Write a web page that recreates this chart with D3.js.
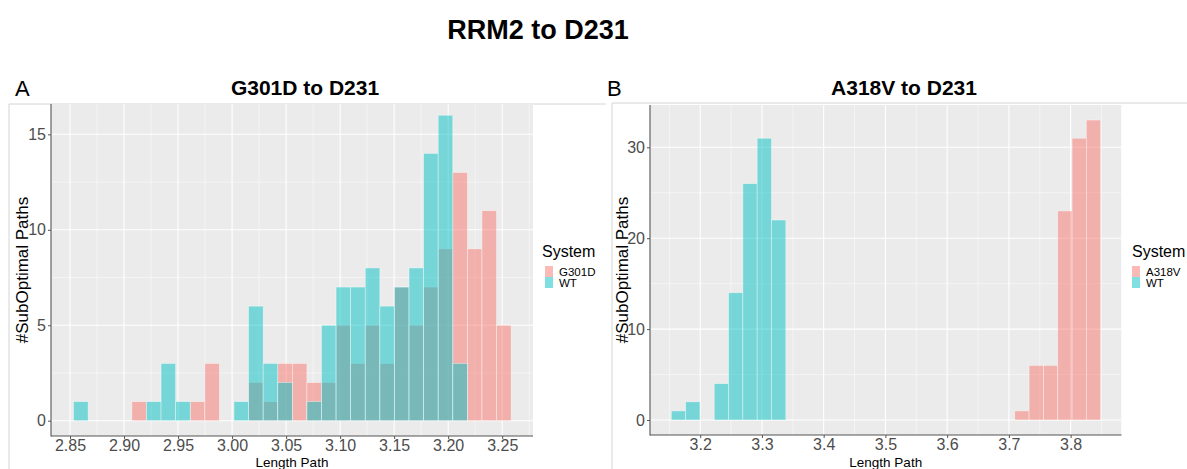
<!DOCTYPE html>
<html>
<head>
<meta charset="utf-8">
<script src="https://cdn.jsdelivr.net/npm/d3@7"></script>
<style>
  html, body { margin: 0; padding: 0; background: #fff; }
  svg { display: block; font-family: "Liberation Sans", Arial, Helvetica, sans-serif; }
</style>
</head>
<body>
<svg id="chart" width="1187" height="469"></svg>
<script>
// ---------- data ----------
const mainTitle = "RRM2 to D231";
const panelTitles = ["G301D to D231", "A318V to D231"];
const panelLetters = ["A", "B"];
const xTitle = "Length Path";
const yTitle = "#SubOptimal Paths";
const legendTitle = "System";

// Panel A: histogram bin centres (30 bins) and counts
const binsA = [2.8600, 2.8735, 2.8870, 2.9005, 2.9140, 2.9275, 2.9410, 2.9545, 2.9680, 2.9815,
               2.9950, 3.0085, 3.0220, 3.0355, 3.0490, 3.0625, 3.0760, 3.0895, 3.1030, 3.1165,
               3.1300, 3.1435, 3.1570, 3.1705, 3.1840, 3.1975, 3.2110, 3.2245, 3.2380, 3.2515];
const binWidthA = 0.0135;
const countsG301D = [0, 0, 0, 0, 1, 0, 0, 0, 1, 3,
                     0, 0, 2, 1, 3, 3, 2, 2, 5, 3,
                     5, 3, 7, 5, 7, 9, 13, 9, 11, 5];
const countsWTA   = [1, 0, 0, 0, 0, 1, 3, 1, 0, 0,
                     0, 1, 6, 3, 2, 0, 1, 5, 7, 7,
                     8, 6, 7, 8, 14, 16, 3, 0, 0, 0];
const xTicksA = [2.85, 2.90, 2.95, 3.00, 3.05, 3.10, 3.15, 3.20, 3.25];
const xTickLabelsA = ["2.85", "2.90", "2.95", "3.00", "3.05", "3.10", "3.15", "3.20", "3.25"];
const yTicksA = [0, 5, 10, 15];
const seriesA = ["G301D", "WT"];

// Panel B
const binsB = [3.1648, 3.1880, 3.2112, 3.2343, 3.2575, 3.2807, 3.3039, 3.3271, 3.3502, 3.3734,
               3.3966, 3.4198, 3.4430, 3.4661, 3.4893, 3.5125, 3.5357, 3.5589, 3.5820, 3.6052,
               3.6284, 3.6516, 3.6748, 3.6979, 3.7211, 3.7443, 3.7675, 3.7907, 3.8139, 3.8370];
const binWidthB = 0.02318;
const countsA318V = [0, 0, 0, 0, 0, 0, 0, 0, 0, 0,
                     0, 0, 0, 0, 0, 0, 0, 0, 0, 0,
                     0, 0, 0, 0, 1, 6, 6, 23, 31, 33];
const countsWTB   = [1, 2, 0, 4, 14, 26, 31, 22, 0, 0,
                     0, 0, 0, 0, 0, 0, 0, 0, 0, 0,
                     0, 0, 0, 0, 0, 0, 0, 0, 0, 0];
const xTicksB = [3.2, 3.3, 3.4, 3.5, 3.6, 3.7, 3.8];
const xTickLabelsB = ["3.2", "3.3", "3.4", "3.5", "3.6", "3.7", "3.8"];
const yTicksB = [0, 10, 20, 30];
const seriesB = ["A318V", "WT"];

const colors = ["#F8766D", "#00BFC4"];

// ---------- drawing ----------
const svg = d3.select("#chart");
svg.append("rect").attr("width", 1187).attr("height", 469).attr("fill", "#fff");

svg.append("text").attr("x", 538).attr("y", 39).attr("text-anchor", "middle")
  .attr("font-size", 27).attr("font-weight", "bold").attr("fill", "#000").text(mainTitle);

const panels = [
  { bins: binsA, bw: binWidthA, series: [countsG301D, countsWTA], names: seriesA,
    xDomain: [2.8324, 3.2785], yDomain: [-0.8, 16.8],
    left: 51, right: 533, top: 99.96, bottom: 435.97, clipTop: 104,
    xTicks: xTicksA, xLabels: xTickLabelsA, yTicks: yTicksA,
    xMinor: [2.875, 2.925, 2.975, 3.025, 3.075, 3.125, 3.175, 3.225, 3.275],
    yMinor: [2.5, 7.5, 12.5],
    frameX: 9, frameY: 104, frameRight: 606,
    letterX: 15, titleX: 305, yTitleX: 28, legendX: 542, legendKeyX: 545 },
  { bins: binsB, bw: binWidthB, series: [countsA318V, countsWTB], names: seriesB,
    xDomain: [3.1187, 3.8824], yDomain: [-1.65, 34.65],
    left: 650, right: 1121.5, top: 105.04, bottom: 435.0, clipTop: 104,
    xTicks: xTicksB, xLabels: xTickLabelsB, yTicks: yTicksB,
    xMinor: [3.15, 3.25, 3.35, 3.45, 3.55, 3.65, 3.75, 3.85],
    yMinor: [5, 15, 25],
    frameX: 612, frameY: 103, frameRight: 1187,
    letterX: 607, titleX: 904, yTitleX: 628, legendX: 1132, legendKeyX: 1132 }
];

panels.forEach((p, pi) => {
  const g = svg.append("g");
  // frame lines
  g.append("line").attr("x1", p.frameX).attr("x2", p.frameRight).attr("y1", p.frameY).attr("y2", p.frameY)
    .attr("stroke", "#d4d4d4").attr("stroke-width", 1);
  g.append("line").attr("x1", p.frameX).attr("x2", p.frameX).attr("y1", p.frameY).attr("y2", 469)
    .attr("stroke", "#d4d4d4").attr("stroke-width", 1);

  const x = d3.scaleLinear().domain(p.xDomain).range([p.left, p.right]);
  const y = d3.scaleLinear().domain(p.yDomain).range([p.bottom, p.top]);
  const pTop = Math.max(p.top, p.clipTop);

  const clipId = "clip" + pi;
  svg.append("clipPath").attr("id", clipId).append("rect")
    .attr("x", p.left).attr("y", pTop).attr("width", p.right - p.left).attr("height", p.bottom - pTop);

  const plot = g.append("g").attr("clip-path", `url(#${clipId})`);
  plot.append("rect").attr("x", p.left).attr("y", pTop).attr("width", p.right - p.left)
    .attr("height", p.bottom - pTop).attr("fill", "#EBEBEB");

  // minor grid
  plot.selectAll(".xminor").data(p.xMinor).enter().append("line")
    .attr("x1", d => x(d)).attr("x2", d => x(d)).attr("y1", pTop).attr("y2", p.bottom)
    .attr("stroke", "#fff").attr("stroke-width", 0.6).attr("stroke-opacity", 0.8);
  plot.selectAll(".yminor").data(p.yMinor).enter().append("line")
    .attr("x1", p.left).attr("x2", p.right).attr("y1", d => y(d)).attr("y2", d => y(d))
    .attr("stroke", "#fff").attr("stroke-width", 0.6).attr("stroke-opacity", 0.8);
  // major grid
  plot.selectAll(".xmajor").data(p.xTicks).enter().append("line")
    .attr("x1", d => x(d)).attr("x2", d => x(d)).attr("y1", pTop).attr("y2", p.bottom)
    .attr("stroke", "#fff").attr("stroke-width", 1.1);
  plot.selectAll(".ymajor").data(p.yTicks).enter().append("line")
    .attr("x1", p.left).attr("x2", p.right).attr("y1", d => y(d)).attr("y2", d => y(d))
    .attr("stroke", "#fff").attr("stroke-width", 1.1);

  // bars: first series then second, alpha 0.5
  p.series.forEach((counts, si) => {
    const data = p.bins.map((c, i) => ({ c: c, n: counts[i] })).filter(d => d.n > 0);
    plot.selectAll(".bar" + si).data(data).enter().append("rect")
      .attr("x", d => x(d.c - p.bw / 2))
      .attr("width", d => x(d.c + p.bw / 2) - x(d.c - p.bw / 2))
      .attr("y", d => y(d.n))
      .attr("height", d => y(0) - y(d.n))
      .attr("fill", colors[si]).attr("fill-opacity", 0.5)
      .attr("stroke", "#fff").attr("stroke-opacity", 0.55).attr("stroke-width", 0.7);
  });

  // axes
  const xAxis = d3.axisBottom(x).tickValues(p.xTicks).tickFormat((d, i) => p.xLabels[i])
    .tickSize(3).tickSizeOuter(0).tickPadding(1);
  const gx = g.append("g").attr("transform", `translate(0,${p.bottom})`).call(xAxis);
  gx.select(".domain").remove();
  gx.selectAll("line").attr("stroke", "#555");
  gx.selectAll("text").attr("font-size", 16).attr("fill", "#4D4D4D")
    .attr("font-family", "'Liberation Sans', Arial, sans-serif");

  const yAxis = d3.axisLeft(y).tickValues(p.yTicks).tickSize(3).tickSizeOuter(0).tickPadding(2);
  const gy = g.append("g").attr("transform", `translate(${p.left},0)`).call(yAxis);
  gy.select(".domain").remove();
  gy.selectAll("line").attr("stroke", "#555");
  gy.selectAll("text").attr("font-size", 16).attr("fill", "#4D4D4D")
    .attr("font-family", "'Liberation Sans', Arial, sans-serif");

  // axis lines
  g.append("line").attr("x1", p.left).attr("x2", p.left).attr("y1", pTop).attr("y2", p.bottom + 0.5)
    .attr("stroke", "#555").attr("stroke-width", 1.1);
  g.append("line").attr("x1", p.left).attr("x2", p.right).attr("y1", p.bottom).attr("y2", p.bottom)
    .attr("stroke", "#555").attr("stroke-width", 1.1);

  // titles
  g.append("text").attr("x", p.letterX).attr("y", 96).attr("font-size", 22).attr("fill", "#000")
    .text(panelLetters[pi]);
  g.append("text").attr("x", p.titleX).attr("y", 95).attr("text-anchor", "middle")
    .attr("font-size", 21).attr("font-weight", "bold").attr("fill", "#000").text(panelTitles[pi]);
  g.append("text").attr("x", (p.left + p.right) / 2).attr("y", 466.5).attr("text-anchor", "middle")
    .attr("font-size", 13.5).attr("fill", "#000").text(xTitle);
  g.append("text").attr("transform", `translate(${p.yTitleX},${(pTop + p.bottom) / 2}) rotate(-90)`)
    .attr("text-anchor", "middle").attr("font-size", 17).attr("fill", "#000").text(yTitle);

  // legend
  const lg = g.append("g");
  lg.append("text").attr("x", p.legendX).attr("y", 257).attr("font-size", 16).attr("fill", "#000")
    .text(legendTitle);
  p.names.forEach((nm, si) => {
    const ky = 266 + si * 11;
    lg.append("rect").attr("x", p.legendKeyX).attr("y", ky).attr("width", 8).attr("height", 11)
      .attr("fill", colors[si]).attr("fill-opacity", 0.5);
    lg.append("text").attr("x", p.legendKeyX + 14).attr("y", ky + 9.5).attr("font-size", 11.5)
      .attr("fill", "#000").text(nm);
  });
});
</script>
</body>
</html>
